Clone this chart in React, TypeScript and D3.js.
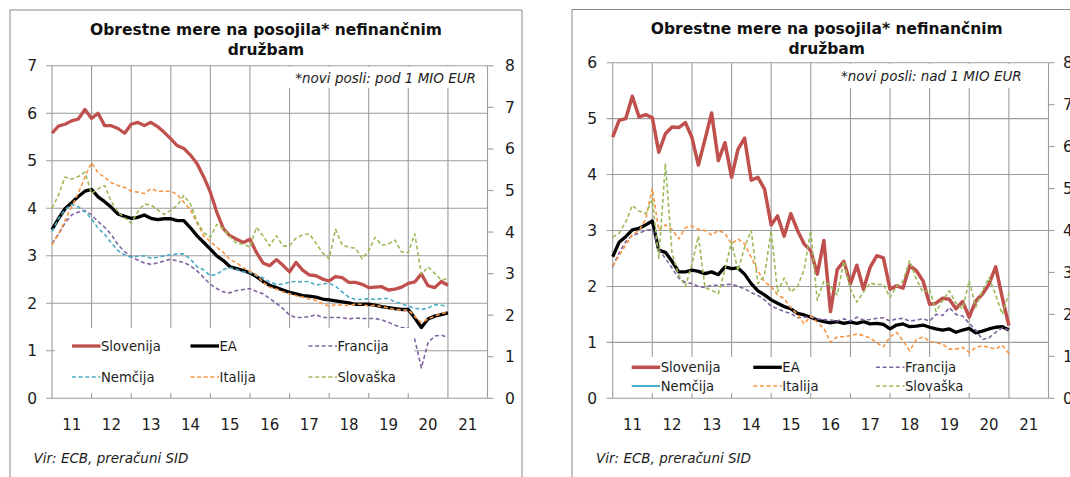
import * as d3 from "d3";

const FONT = "'DejaVu Sans', Verdana, sans-serif";

// bimonthly grid, Jan 2011 .. Jan 2021
const MONTHS = d3.timeMonth.every(2)!.range(new Date(2011, 0, 1), new Date(2021, 1, 1));
const YEAR_LABELS = ["11", "12", "13", "14", "15", "16", "17", "18", "19", "20", "21"];

// --- left chart: loans under 1 MIO EUR ---
const SI_SMALL = [5.58,5.73,5.77,5.84,5.88,6.08,5.89,6.0,5.74,5.74,5.68,5.58,5.77,5.81,5.74,5.81,5.72,5.6,5.46,5.32,5.26,5.12,4.94,4.66,4.34,3.92,3.57,3.42,3.35,3.28,3.35,3.07,2.85,2.79,2.92,2.8,2.66,2.86,2.7,2.6,2.58,2.51,2.47,2.56,2.54,2.44,2.44,2.4,2.33,2.34,2.35,2.28,2.3,2.34,2.42,2.45,2.62,2.37,2.33,2.46,2.38];
const EA_SMALL = [3.55,3.78,3.99,4.12,4.25,4.36,4.4,4.24,4.14,4.02,3.88,3.83,3.79,3.81,3.86,3.79,3.76,3.78,3.78,3.74,3.74,3.59,3.42,3.28,3.14,3.0,2.9,2.77,2.73,2.69,2.64,2.56,2.46,2.38,2.33,2.28,2.23,2.2,2.16,2.15,2.13,2.09,2.07,2.05,2.03,2.01,1.98,1.98,1.98,1.96,1.93,1.91,1.89,1.87,1.87,1.69,1.49,1.67,1.73,1.76,1.8];
const FR_SMALL = [3.26,3.45,3.69,3.86,3.92,3.95,3.86,3.72,3.6,3.45,3.23,3.09,2.98,2.91,2.85,2.82,2.85,2.89,2.93,2.89,2.86,2.79,2.68,2.54,2.4,2.31,2.24,2.22,2.27,2.29,2.31,2.25,2.2,2.1,2.0,1.89,1.75,1.7,1.7,1.72,1.76,1.7,1.7,1.7,1.7,1.67,1.69,1.68,1.68,1.68,1.65,1.6,1.54,1.49,1.48,1.24,0.64,1.17,1.31,1.33,1.28];
const DE_SMALL = [3.51,3.78,3.97,4.08,4.03,3.93,3.78,3.58,3.45,3.27,3.11,3.02,2.97,2.99,3.0,2.95,2.97,3.0,3.02,3.04,3.04,2.93,2.77,2.7,2.58,2.61,2.71,2.75,2.71,2.66,2.65,2.58,2.54,2.45,2.4,2.4,2.45,2.46,2.45,2.46,2.38,2.41,2.42,2.36,2.24,2.13,2.08,2.08,2.1,2.08,2.1,2.1,2.03,1.99,1.94,1.9,1.87,1.9,1.97,1.96,1.94];
const IT_SMALL = [3.23,3.46,3.74,4.03,4.32,4.66,4.96,4.75,4.65,4.54,4.48,4.44,4.36,4.34,4.31,4.41,4.36,4.36,4.36,4.29,4.13,3.97,3.69,3.42,3.3,3.18,3.07,2.92,2.85,2.75,2.67,2.6,2.44,2.34,2.3,2.24,2.2,2.16,2.13,2.09,2.06,1.99,1.94,1.97,1.96,1.96,1.98,1.98,1.94,1.96,1.93,1.9,1.87,1.86,1.86,1.72,1.59,1.67,1.73,1.78,1.81];
const SK_SMALL = [4.0,4.27,4.66,4.61,4.67,4.76,4.31,4.41,4.48,4.14,3.92,3.8,3.69,3.92,4.09,4.07,3.97,3.87,3.96,4.06,4.27,4.09,3.72,3.49,3.39,3.66,3.57,3.4,3.26,3.25,3.18,3.6,3.42,3.21,3.42,3.21,3.21,3.37,3.44,3.46,3.27,3.06,2.94,3.56,3.23,3.18,3.16,2.94,3.11,3.39,3.22,3.25,3.33,3.08,3.07,3.46,2.61,2.77,2.63,2.49,2.52];

// --- right chart: loans over 1 MIO EUR ---
const SI_LARGE = [4.67,4.97,5.0,5.4,5.03,5.07,5.02,4.4,4.73,4.85,4.84,4.93,4.66,4.17,4.63,5.1,4.25,4.57,3.95,4.45,4.65,3.9,3.95,3.74,3.1,3.26,2.9,3.3,3.0,2.76,2.64,2.22,2.82,1.55,2.3,2.45,2.05,2.38,1.95,2.34,2.55,2.51,1.95,2.01,1.97,2.37,2.28,2.1,1.68,1.7,1.79,1.77,1.6,1.73,1.45,1.74,1.86,2.04,2.35,1.8,1.3];
const EA_LARGE = [2.53,2.79,2.89,3.01,3.04,3.1,3.17,2.65,2.61,2.45,2.26,2.26,2.29,2.27,2.23,2.26,2.21,2.35,2.32,2.33,2.22,2.05,1.92,1.85,1.76,1.7,1.64,1.6,1.52,1.49,1.45,1.4,1.37,1.35,1.37,1.34,1.36,1.34,1.37,1.33,1.34,1.32,1.24,1.31,1.33,1.28,1.29,1.31,1.27,1.24,1.22,1.24,1.18,1.22,1.25,1.17,1.2,1.24,1.27,1.28,1.22];
const FR_LARGE = [2.35,2.6,2.8,2.91,2.95,3.0,3.02,2.66,2.5,2.33,2.15,2.07,2.05,2.0,1.98,2.02,2.02,2.03,2.04,2.0,1.96,1.89,1.84,1.76,1.65,1.6,1.55,1.52,1.44,1.45,1.45,1.42,1.41,1.4,1.38,1.42,1.38,1.45,1.4,1.41,1.43,1.44,1.38,1.42,1.43,1.38,1.4,1.42,1.38,1.5,1.48,1.62,1.5,1.47,1.34,1.22,1.05,1.08,1.18,1.26,1.22];
const IT_LARGE = [2.37,2.55,2.74,2.93,3.0,3.2,3.75,3.0,3.1,3.02,2.85,3.05,3.08,3.02,3.0,2.92,3.0,2.95,2.76,2.85,2.76,2.52,2.28,2.08,2.0,1.85,1.78,1.62,1.5,1.33,1.47,1.36,1.25,1.0,1.1,1.1,1.12,1.15,1.12,1.08,0.99,0.92,1.1,1.18,1.03,0.85,1.05,1.1,1.02,0.99,0.97,0.88,0.88,0.91,0.82,0.91,0.94,0.91,0.88,0.95,0.8];
const SK_LARGE = [2.88,2.95,3.15,3.45,3.35,3.3,3.55,2.5,4.2,2.6,2.2,2.0,2.4,2.9,1.98,1.93,1.87,2.3,2.8,2.28,2.7,3.0,2.05,2.2,3.0,1.9,2.15,1.9,2.0,2.3,3.0,1.75,2.1,2.0,1.85,2.45,1.95,1.72,1.9,2.06,2.03,2.04,1.8,2.0,2.1,2.46,2.13,1.89,1.95,1.55,1.75,1.92,1.7,1.6,2.1,1.63,1.92,2.16,1.85,1.5,1.88];

const C = {
  si: "#c0504d",
  ea: "#000000",
  fr: "#8064a2",
  de: "#4bacc6",
  it: "#f79646",
  sk: "#9bbb59",
};

type Style = { color: string; width: number; dash?: string };
type Series = { name: string; values: number[] | null; style: Style };

const THICK = 3.3;
const DASH = "4 2.6";

function seriesSmall(): Series[] {
  return [
    { name: "Slovenija", values: SI_SMALL, style: { color: C.si, width: THICK } },
    { name: "EA", values: EA_SMALL, style: { color: C.ea, width: THICK } },
    { name: "Francija", values: FR_SMALL, style: { color: C.fr, width: 1.6, dash: DASH } },
    { name: "Nemčija", values: DE_SMALL, style: { color: C.de, width: 1.6, dash: DASH } },
    { name: "Italija", values: IT_SMALL, style: { color: C.it, width: 1.6, dash: DASH } },
    { name: "Slovaška", values: SK_SMALL, style: { color: C.sk, width: 1.6, dash: DASH } },
  ];
}

function seriesLarge(): Series[] {
  return [
    { name: "Slovenija", values: SI_LARGE, style: { color: C.si, width: 3.5 } },
    { name: "EA", values: EA_LARGE, style: { color: C.ea, width: THICK } },
    { name: "Francija", values: FR_LARGE, style: { color: C.fr, width: 1.6, dash: DASH } },
    { name: "Nemčija", values: null, style: { color: C.de, width: 2 } },
    { name: "Italija", values: IT_LARGE, style: { color: C.it, width: 1.6, dash: DASH } },
    { name: "Slovaška", values: SK_LARGE, style: { color: C.sk, width: 1.6, dash: DASH } },
  ];
}

interface PanelCfg {
  frame: [number, number, number, number];
  x0: number;
  x1: number;
  top: number;
  bottom: number;
  leftMax: number;
  titleX: number;
  titleY: [number, number];
  note: string;
  noteX: number;
  noteY: number;
  noteBox: [number, number, number, number];
  legendBox: [number, number, number, number];
  legendRows: [number, number];
  legendCols: [number, number, number];
  legendLen: number;
  leftLabelX: number;
  rightLabelX: number;
  sourceX: number;
  series: Series[];
}

const GRID = "#9d9d9d";
const TEXT = "#1c1c1c";

function Panel({ cfg }: { cfg: PanelCfg }) {
  const x = d3
    .scaleTime()
    .domain([new Date(2011, 0, 1), new Date(2022, 0, 1)])
    .range([cfg.x0, cfg.x1]);
  const y = d3.scaleLinear().domain([0, cfg.leftMax]).range([cfg.bottom, cfg.top]);
  const yR = d3.scaleLinear().domain([0, 8]).range([cfg.bottom, cfg.top]);

  const years = d3.timeYear.range(new Date(2011, 0, 1), new Date(2022, 0, 2));
  const line = d3
    .line<number>()
    .x((_, i) => x(MONTHS[i]))
    .y((d) => y(d));

  const [fx, fy, fw, fh] = cfg.frame;
  const [nx0, ny0, nx1, ny1] = cfg.noteBox;
  const [lx0, ly0, lx1, ly1] = cfg.legendBox;

  return (
    <g>
      <rect x={fx} y={fy} width={fw} height={fh} fill="#fff" stroke="#8a8a8a" strokeWidth={1} />

      {/* title */}
      <text x={cfg.titleX} y={cfg.titleY[0]} textAnchor="middle" fontFamily={FONT} fontWeight="bold" fontSize={15.5} fill="#111">
        Obrestne mere na posojila* nefinančnim
      </text>
      <text x={cfg.titleX} y={cfg.titleY[1]} textAnchor="middle" fontFamily={FONT} fontWeight="bold" fontSize={15.5} fill="#111">
        družbam
      </text>

      {/* horizontal grid + left ticks */}
      {y.ticks(cfg.leftMax).map((t) => (
        <g key={"h" + t}>
          <line x1={cfg.x0 - 6} x2={cfg.x1} y1={y(t)} y2={y(t)} stroke={GRID} strokeWidth={1.1} />
          <text x={cfg.leftLabelX} y={y(t) + 5.5} textAnchor="end" fontFamily={FONT} fontSize={15.5} fill={TEXT}>
            {t}
          </text>
        </g>
      ))}
      {/* vertical grid */}
      {years.map((d) => (
        <line key={"v" + d.getFullYear()} x1={x(d)} x2={x(d)} y1={cfg.top} y2={cfg.bottom} stroke={GRID} strokeWidth={1.1} />
      ))}
      {/* right axis */}
      {yR.ticks(8).map((t) => (
        <g key={"r" + t}>
          <line x1={cfg.x1} x2={cfg.x1 + 6} y1={yR(t)} y2={yR(t)} stroke={GRID} strokeWidth={1.1} />
          <text x={cfg.rightLabelX} y={yR(t) + 5.5} fontFamily={FONT} fontSize={15.5} fill={TEXT}>
            {t}
          </text>
        </g>
      ))}

      {/* year labels */}
      {years.slice(0, -1).map((d, i) => (
        <text
          key={"y" + i}
          x={(x(d) + x(years[i + 1])) / 2}
          y={430}
          textAnchor="middle"
          fontFamily={FONT}
          fontSize={15}
          fill={TEXT}
        >
          {YEAR_LABELS[i]}
        </text>
      ))}

      {/* series */}
      {cfg.series.map((s) =>
        s.values ? (
          <path
            key={s.name}
            d={line(s.values) ?? ""}
            fill="none"
            stroke={s.style.color}
            strokeWidth={s.style.width}
            strokeDasharray={s.style.dash}
            strokeLinejoin="round"
          />
        ) : null,
      )}

      {/* note box */}
      <rect x={nx0} y={ny0} width={nx1 - nx0} height={ny1 - ny0} fill="#fff" />
      <text x={cfg.noteX} y={cfg.noteY} textAnchor="end" fontFamily={FONT} fontStyle="italic" fontSize={13.5} fill={TEXT}>
        {cfg.note}
      </text>

      {/* legend */}
      <rect x={lx0} y={ly0} width={lx1 - lx0} height={ly1 - ly0} fill="#fff" />
      {cfg.series.map((s, i) => {
        const cx = cfg.legendCols[i % 3];
        const cy = cfg.legendRows[Math.floor(i / 3)];
        return (
          <g key={"l" + s.name}>
            <line
              x1={cx}
              x2={cx + cfg.legendLen}
              y1={cy}
              y2={cy}
              stroke={s.style.color}
              strokeWidth={s.style.width}
              strokeDasharray={s.style.dash}
            />
            <text x={cx + cfg.legendLen + 0.5} y={cy + 5} fontFamily={FONT} fontSize={13.2} fill={TEXT}>
              {s.name}
            </text>
          </g>
        );
      })}

      {/* source */}
      <text x={cfg.sourceX} y={463} fontFamily={FONT} fontStyle="italic" fontSize={13.5} fill={TEXT}>
        Vir: ECB, preračuni SID
      </text>
    </g>
  );
}

const LEFT: PanelCfg = {
  frame: [10, 10, 512, 490],
  x0: 52,
  x1: 487.5,
  top: 65.8,
  bottom: 398.3,
  leftMax: 7,
  titleX: 266,
  titleY: [35, 55],
  note: "*novi posli: pod 1 MIO EUR",
  noteX: 476,
  noteY: 83,
  noteBox: [278, 66.8, 487, 88],
  legendBox: [55, 328, 414, 393],
  legendRows: [346, 377],
  legendCols: [72, 190.5, 308.5],
  legendLen: 28.5,
  leftLabelX: 37,
  rightLabelX: 505,
  sourceX: 33.5,
  series: seriesSmall(),
};

const RIGHT: PanelCfg = {
  frame: [572, 9.5, 520, 490],
  x0: 612.7,
  x1: 1048.5,
  top: 62.7,
  bottom: 398.3,
  leftMax: 6,
  titleX: 826.7,
  titleY: [33.5, 53.5],
  note: "*novi posli: nad 1 MIO EUR",
  noteX: 1021.7,
  noteY: 81,
  noteBox: [838, 63.7, 1048, 88],
  legendBox: [614, 357, 1000, 393],
  legendRows: [367.3, 386],
  legendCols: [631.7, 753.3, 876],
  legendLen: 28.5,
  leftLabelX: 597,
  rightLabelX: 1063,
  sourceX: 596,
  series: seriesLarge(),
};

export default function App() {
  return (
    <svg
      width={1070}
      height={477}
      style={{ position: "absolute", left: 0, top: 0, background: "#fff" }}
    >
      <rect width={1070} height={477} fill="#fff" />
      <Panel cfg={LEFT} />
      <Panel cfg={RIGHT} />
    </svg>
  );
}
